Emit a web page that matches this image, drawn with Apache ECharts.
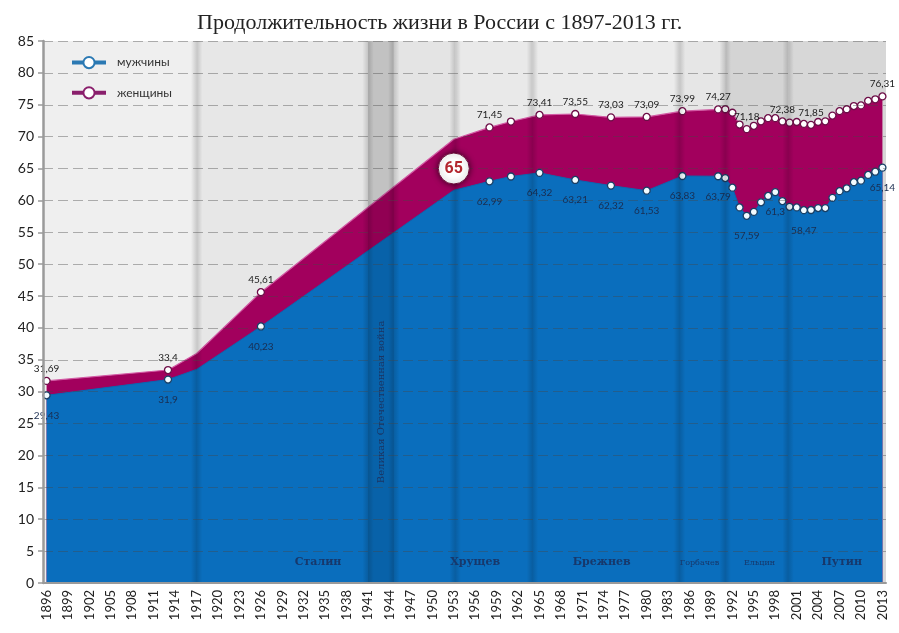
<!DOCTYPE html>
<html>
<head>
<meta charset="utf-8">
<script src="https://cdn.jsdelivr.net/npm/echarts@6/dist/echarts.min.js"></script>
<style>
html,body{margin:0;padding:0;background:#fff}
#chart{width:899px;height:633px}
</style>
</head>
<body>
<div id="chart"></div>
<script>
var firstYear = 1896, lastYear = 2013;

// years that carry a value (1917 and 1953 are bends of the line, no marker)
var pointYears = [1896, 1913, 1917, 1926, 1953, 1958, 1961, 1965, 1970, 1975, 1980, 1985,
    1990, 1991, 1992, 1993, 1994, 1995, 1996, 1997, 1998, 1999, 2000, 2001,
    2002, 2003, 2004, 2005, 2006, 2007, 2008, 2009, 2010, 2011, 2012, 2013];
var menValues = [29.43, 31.9, 33.5, 40.23, 61.6, 62.99, 63.75, 64.32, 63.21, 62.32, 61.53, 63.83,
    63.79, 63.5, 62.0, 58.9, 57.59, 58.2, 59.7, 60.7, 61.3, 59.9, 59.0, 58.9,
    58.47, 58.5, 58.8, 58.8, 60.4, 61.45, 61.9, 62.86, 63.1, 64.0, 64.5, 65.14];
var womenValues = [31.69, 33.4, 36.0, 45.61, 69.6, 71.45, 72.37, 73.41, 73.55, 73.03, 73.09, 73.99,
    74.27, 74.3, 73.75, 71.9, 71.18, 71.7, 72.4, 72.9, 72.9, 72.38, 72.2, 72.3,
    72.0, 71.85, 72.3, 72.4, 73.3, 74.0, 74.3, 74.8, 74.9, 75.6, 75.86, 76.31];
var knotYears = [1917, 1953];
var menLabelYears = [1896, 1913, 1926, 1958, 1965, 1970, 1975, 1980, 1985, 1990, 1994, 1998, 2002, 2013];
var womenLabelYears = [1896, 1913, 1926, 1958, 1965, 1970, 1975, 1980, 1985, 1990, 1994, 1999, 2003, 2013];

// eras
var bandEdges = [1895.5, 1917, 1941, 1944.6, 1953.2, 1964, 1984.6, 1991, 1999.8, 2013.5];
var eraNames = ['Сталин', 'Хрущев', 'Брежнев', 'Горбачев', 'Ельцин', 'Путин'];
var eraLabelYears = [1934, 1956, 1973.7, 1987.4, 1995.8, 2007.3];
var warName = 'Великая Отечественная война';
var markValue = 65, markYear = 1953;

var categories = [];
for (var y = firstYear; y <= lastYear; y++) categories.push(String(y));

var bandColors = ['#efefef', '#e7e7e7', '#d8d8d8', '#e4e4e4', '#e9e9e9', '#ebebeb', '#e6e6e6', '#d4d4d4', '#d7d7d7'];

function buildData(values, labelYears) {
    return pointYears.map(function (yr, i) {
        return {
            value: [yr - firstYear, values[i]],
            symbol: knotYears.indexOf(yr) >= 0 ? 'none' : 'circle',
            label: {show: labelYears.indexOf(yr) >= 0}
        };
    });
}

function commaFmt(p) {
    return String(p.value[1]).replace('.', ',');
}

var bands = [];
for (var i = 0; i < bandEdges.length - 1; i++) {
    bands.push([{xAxis: bandEdges[i], itemStyle: {color: bandColors[i]}}, {xAxis: bandEdges[i + 1]}]);
}

var shade = {
    type: 'linear', x: 0, y: 0, x2: 1, y2: 0,
    colorStops: [
        {offset: 0, color: 'rgba(0,0,0,0)'},
        {offset: 0.5, color: 'rgba(0,0,0,0.15)'},
        {offset: 1, color: 'rgba(0,0,0,0)'}
    ]
};
var shadows = [];
[1917, 1941, 1944.6, 1953.2, 1964, 1984.6, 1991, 1999.8].forEach(function (e) {
    shadows.push([{xAxis: e - 0.8, itemStyle: {color: shade}}, {xAxis: e + 0.8}]);
});
shadows.push([{xAxis: 1941, itemStyle: {color: 'rgba(0,0,0,0.1)'}}, {xAxis: 1944.6}]);

var marks = eraNames.map(function (n, i) {
    var small = (n === 'Горбачев' || n === 'Ельцин');
    return {
        name: n, coord: [eraLabelYears[i], 3.2], symbol: 'circle', symbolSize: 1,
        itemStyle: {color: 'rgba(0,0,0,0)'},
        label: {show: true, position: 'inside', formatter: '{b}', color: '#17386b',
            fontFamily: 'DejaVu Serif, serif', fontWeight: small ? 'normal' : 'bold',
            fontSize: small ? 8 : 11}
    };
});
marks.push({
    name: warName, coord: [1942.8, 28.4], symbol: 'circle', symbolSize: 1,
    itemStyle: {color: 'rgba(0,0,0,0)'},
    label: {show: true, position: 'inside', formatter: '{b}', rotate: 90, color: '#1b3563',
        fontFamily: 'DejaVu Serif, serif', fontSize: 10}
});
marks.push({
    name: String(markValue), coord: [markYear, markValue], symbol: 'circle', symbolSize: 31,
    itemStyle: {color: '#fff', borderColor: '#6a0a38', borderWidth: 1, shadowBlur: 6, shadowColor: 'rgba(0,0,0,0.6)'},
    label: {show: true, position: 'inside', formatter: '{b}', color: '#b3262e',
        fontFamily: 'Liberation Sans Narrow, Roboto, sans-serif', fontWeight: 'bold', fontSize: 16}
});

var option = {
    animation: false,
    backgroundColor: '#fff',
    title: {
        text: 'Продолжительность жизни в России с 1897-2013 гг.',
        left: 192, top: 7,
        textStyle: {fontFamily: 'Liberation Serif, serif', fontSize: 22, fontWeight: 'normal', color: '#222'}
    },
    legend: {
        orient: 'vertical', left: 65, top: 51, itemWidth: 34, itemHeight: 14, itemGap: 17,
        textStyle: {fontFamily: 'Lato, sans-serif', fontSize: 12, color: '#333', padding: [0, 0, 0, 6]},
        data: [
            {name: 'мужчины', lineStyle: {color: '#2b79b3', width: 4},
                itemStyle: {color: '#fff', borderColor: '#2b79b3', borderWidth: 2}},
            {name: 'женщины', lineStyle: {color: '#8a1f6c', width: 4},
                itemStyle: {color: '#fff', borderColor: '#8a1f6c', borderWidth: 2}}
        ]
    },
    grid: {left: 43, right: 13, top: 41, bottom: 50},
    xAxis: [{
        type: 'category', data: categories, boundaryGap: true, z: 5,
        axisLine: {lineStyle: {color: '#9a9a9a', width: 2}},
        axisTick: {interval: 0, alignWithLabel: true, length: 4, lineStyle: {color: '#9a9a9a', width: 2}},
        axisLabel: {interval: 2, rotate: 90, fontSize: 13, color: '#222', fontFamily: 'Lato, sans-serif', margin: 7},
        splitLine: {show: false}
    }, {
        type: 'value', min: 1895.5, max: 2013.5, show: false
    }],
    yAxis: {
        type: 'value', min: 0, max: 85, interval: 5, z: 5,
        axisLine: {show: true, lineStyle: {color: '#9a9a9a', width: 2.5}},
        axisTick: {show: true, length: 5, lineStyle: {color: '#9a9a9a', width: 1.5}},
        axisLabel: {fontSize: 14, color: '#222', fontFamily: 'Lato, sans-serif', margin: 9},
        splitLine: {lineStyle: {color: 'rgba(70,70,70,0.4)', type: [10, 5], width: 1}}
    },
    series: [{
        type: 'line', xAxisIndex: 1, data: [], z: 1, silent: true,
        markArea: {silent: true, z: 1, data: bands}
    }, {
        name: 'женщины', type: 'line', z: 2,
        data: buildData(womenValues, womenLabelYears),
        symbol: 'circle', symbolSize: 7, showAllSymbol: true,
        lineStyle: {color: '#d25aa4', width: 1.2},
        itemStyle: {color: '#fff', borderColor: '#6d0d47', borderWidth: 1.3},
        areaStyle: {color: '#a2005d', opacity: 1},
        label: {position: 'top', distance: 3, fontSize: 10, color: '#222', fontFamily: 'Lato, sans-serif', formatter: commaFmt}
    }, {
        name: 'мужчины', type: 'line', z: 2,
        data: buildData(menValues, menLabelYears),
        symbol: 'circle', symbolSize: 7, showAllSymbol: true,
        lineStyle: {color: '#0b66b0', width: 1},
        itemStyle: {color: '#f2fbff', borderColor: '#173f66', borderWidth: 1.3},
        areaStyle: {color: '#0a6ebd', opacity: 1},
        label: {position: 'bottom', distance: 11, fontSize: 10, color: '#1a2d50', fontFamily: 'Lato, sans-serif', formatter: commaFmt}
    }, {
        type: 'line', xAxisIndex: 1, data: [], z: 3, silent: true,
        markArea: {silent: true, z: 3, data: shadows},
        markPoint: {silent: true, z: 6, data: marks}
    }]
};

var myChart = echarts.init(document.getElementById('chart'));
myChart.setOption(option);
</script>
</body>
</html>
